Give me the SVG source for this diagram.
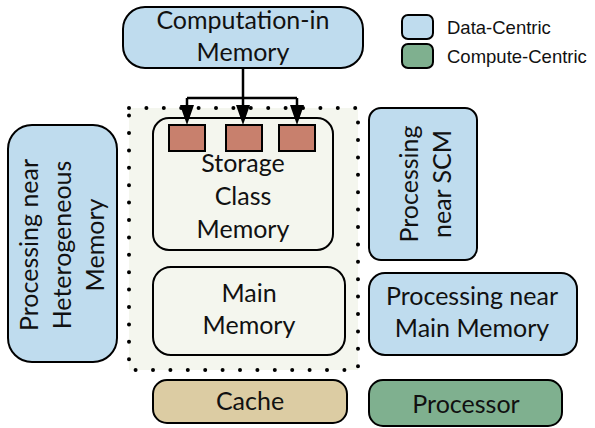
<svg xmlns="http://www.w3.org/2000/svg" width="595" height="428" viewBox="0 0 595 428">
<defs>
<style>
.box{stroke:#000;stroke-width:2}
.blue{fill:#bfdcee}
.green{fill:#7fb08f}
.tan{fill:#dccca3}
.light{fill:#f4f6ee}
.chip{fill:#c8806d;stroke:#000;stroke-width:2}
.t{font-family:Lato,"Liberation Sans",sans-serif;font-size:25px;fill:#111;text-anchor:middle}
.lg{font-family:"Liberation Sans",Arial,sans-serif;font-size:18.5px;fill:#111}
.conn{stroke:#000;stroke-width:2.5;fill:none}
.head{fill:#000}
</style>
</defs>
<rect x="0" y="0" width="595" height="428" fill="#fff"/>

<g id="container">
<rect x="129" y="108" width="229" height="262" fill="#f4f6ee" stroke="#000" stroke-width="4" stroke-dasharray="0 17.4" stroke-linecap="round"/>
</g>

<g id="cim">
<rect class="box blue" x="123" y="7" width="240" height="61" rx="22"/>
<text class="t" x="243" y="29">Computation-in</text>
<text class="t" x="243" y="61">Memory</text>
</g>

<g id="scm">
<rect class="box light" x="153" y="118" width="180" height="132" rx="16"/>
<rect class="chip" x="169" y="125" width="36" height="26"/>
<rect class="chip" x="226" y="125" width="36" height="26"/>
<rect class="chip" x="279" y="125" width="36" height="26"/>
<text class="t" x="243" y="172">Storage</text>
<text class="t" x="243" y="205">Class</text>
<text class="t" x="243" y="238">Memory</text>
</g>

<g id="mainmem">
<rect class="box light" x="153" y="267" width="192" height="88" rx="18"/>
<text class="t" x="249" y="302">Main</text>
<text class="t" x="249" y="334">Memory</text>
</g>

<g id="phm">
<rect class="box blue" x="8" y="125" width="109" height="237" rx="24"/>
<g transform="translate(0,245) rotate(-90)">
<text class="t" x="0" y="38">Processing near</text>
<text class="t" x="0" y="71">Heterogeneous</text>
<text class="t" x="0" y="104">Memory</text>
</g>
</g>

<g id="pscm">
<rect class="box blue" x="369" y="108" width="108" height="152" rx="12"/>
<g transform="translate(0,184) rotate(-90)">
<text class="t" x="0" y="418">Processing</text>
<text class="t" x="0" y="451">near SCM</text>
</g>
</g>

<g id="pmm">
<rect class="box blue" x="369" y="273" width="208" height="82" rx="16"/>
<text class="t" x="472" y="305">Processing near</text>
<text class="t" x="472" y="337">Main Memory</text>
</g>

<g id="cache">
<rect class="box tan" x="153" y="380" width="194" height="43" rx="14"/>
<text class="t" x="250" y="410">Cache</text>
</g>

<g id="processor">
<rect class="box green" x="369" y="380" width="193" height="46" rx="14"/>
<text class="t" x="466" y="413">Processor</text>
</g>

<g id="legend">
<rect class="box blue" x="402" y="15" width="31" height="24" rx="6"/>
<text class="lg" x="447" y="34">Data-Centric</text>
<rect class="box green" x="402" y="44" width="31" height="24" rx="6"/>
<text class="lg" x="447" y="63">Compute-Centric</text>
</g>

<g id="connectors">
<path class="conn" d="M243,68 V98"/>
<path class="conn" d="M187,98 H297"/>
<path class="conn" d="M187,98 V108"/>
<path class="conn" d="M243,98 V108"/>
<path class="conn" d="M297,98 V108"/>
<polygon class="head" points="180,105 194,105 187,125"/>
<polygon class="head" points="236,105 250,105 243,125"/>
<polygon class="head" points="290,105 304,105 297,125"/>
</g>
</svg>
